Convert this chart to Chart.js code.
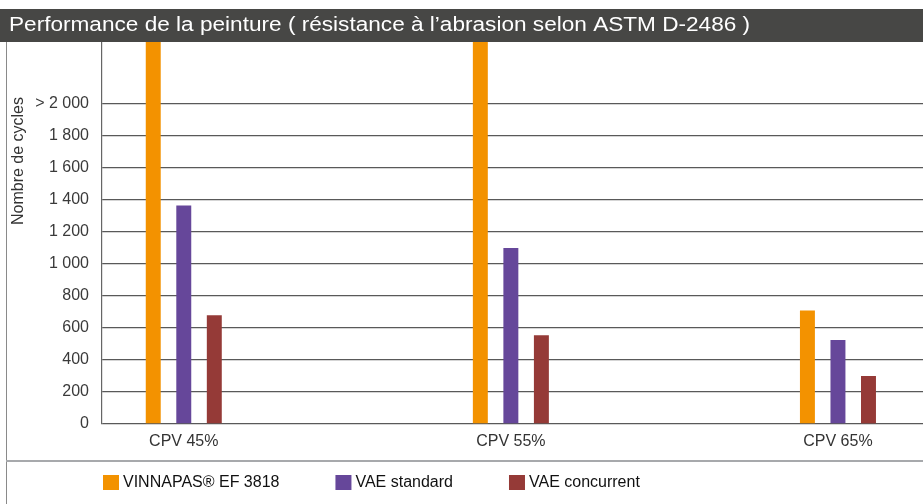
<!DOCTYPE html>
<html><head><meta charset="utf-8">
<script src="https://cdn.jsdelivr.net/npm/chart.js@4/dist/chart.umd.min.js"></script>
<style>html,body{margin:0;padding:0;background:#fff}canvas{display:block}</style>
</head><body>
<canvas id="c" width="923" height="504"></canvas>
<script>
const TITLE = "Performance de la peinture ( résistance à l’abrasion selon ASTM D-2486 )";
const Y_TITLE = "Nombre de cycles";
const cpvValues = [45, 55, 65];
const categories = ["CPV 45%", "CPV 55%", "CPV 65%"];
const seriesNames = ["VINNAPAS® EF 3818", "VAE standard", "VAE concurrent"];
const vinnapas = [2400, 2400, 710];
const vaeStandard = [1365, 1100, 525];
const vaeConcurrent = [680, 555, 300];
const yTicks = [0, 200, 400, 600, 800, 1000, 1200, 1400, 1600, 1800, 2000];
const yTickLabels = ["0", "200", "400", "600", "800", "1 000", "1 200", "1 400", "1 600", "1 800", "> 2 000"];
const colors = ["#F39200", "#66479A", "#953A37"];

const FONT = "'Liberation Sans', Arial, sans-serif";
const seriesValues = [vinnapas, vaeStandard, vaeConcurrent];

const datasets = seriesNames.map((name, i) => ({
  label: name,
  data: cpvValues.map((x, j) => ({ x: x, y: seriesValues[i][j] })),
  backgroundColor: colors[i],
  borderWidth: 0,
  categoryPercentage: 0.28,
  barPercentage: 0.49
}));

const decorPlugin = {
  id: 'decor',
  afterDraw(chart) {
    const ctx = chart.ctx;
    ctx.save();
    // title bar
    ctx.fillStyle = '#474745';
    ctx.fillRect(0, 9, 923, 33);
    ctx.save();
    ctx.translate(9, 25.5);
    ctx.scale(1.13, 1);
    ctx.fillStyle = '#ffffff';
    ctx.font = "20px " + FONT;
    ctx.textBaseline = 'middle';
    ctx.textAlign = 'left';
    ctx.fillText(TITLE, 0, 0);
    ctx.restore();
    // left frame line
    ctx.strokeStyle = '#8a8a8a';
    ctx.lineWidth = 1;
    ctx.beginPath();
    ctx.moveTo(6.5, 42); ctx.lineTo(6.5, 504);
    ctx.stroke();
    // separator
    ctx.strokeStyle = '#a7a9ac';
    ctx.lineWidth = 2;
    ctx.beginPath();
    ctx.moveTo(6, 461); ctx.lineTo(923, 461);
    ctx.stroke();
    // y title
    ctx.save();
    ctx.translate(19, 161);
    ctx.rotate(-Math.PI / 2);
    ctx.fillStyle = '#333333';
    ctx.font = "16px " + FONT;
    ctx.textAlign = 'center';
    ctx.textBaseline = 'middle';
    ctx.fillText(Y_TITLE, 0, 0);
    ctx.restore();
    // legend
    let x = 103;
    ctx.font = "16px " + FONT;
    ctx.textAlign = 'left';
    ctx.textBaseline = 'middle';
    chart.data.datasets.forEach(ds => {
      ctx.fillStyle = ds.backgroundColor;
      ctx.fillRect(x, 475, 16, 15);
      ctx.fillStyle = '#111111';
      ctx.fillText(ds.label, x + 20, 483);
      x += 20 + ctx.measureText(ds.label).width + 56;
    });
    ctx.restore();
  }
};

new Chart(document.getElementById('c'), {
  type: 'bar',
  data: { datasets: datasets },
  options: {
    responsive: false,
    animation: false,
    layout: { padding: { top: 40, left: 0, right: 0, bottom: 0 } },
    plugins: { legend: { display: false }, title: { display: false }, tooltip: { enabled: false } },
    scales: {
      x: {
        type: 'linear',
        offset: false,
        min: 42.5,
        max: 67.6,
        afterBuildTicks: s => { s.ticks = cpvValues.map(v => ({ value: v })); },
        afterFit: s => { s.height = 80; },
        grid: { display: false, drawTicks: false },
        border: { display: false },
        ticks: {
          padding: 8,
          color: '#333333',
          font: { family: FONT, size: 16 },
          callback: v => { const i = cpvValues.indexOf(v); return i >= 0 ? categories[i] : ''; }
        }
      },
      y: {
        z: 1,
        min: 0,
        max: 2400,
        afterBuildTicks: s => { s.ticks = yTicks.map(v => ({ value: v })); },
        afterFit: s => { s.width = 102; },
        grid: { color: 'rgba(25,25,25,0.72)', lineWidth: 1.3, drawTicks: false },
        border: { display: true, color: '#666666', width: 1.2 },
        ticks: {
          padding: 13,
          color: '#3a3a3a',
          font: { family: FONT, size: 16 },
          callback: v => { const i = yTicks.indexOf(v); return i >= 0 ? yTickLabels[i] : ''; }
        }
      }
    }
  },
  plugins: [decorPlugin]
});
</script>
</body></html>
